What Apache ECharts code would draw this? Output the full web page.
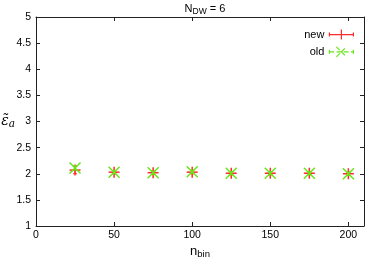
<!DOCTYPE html>
<html><head><meta charset="utf-8">
<script src="https://cdn.jsdelivr.net/npm/echarts@6/dist/echarts.min.js"></script>
<style>html,body{margin:0;padding:0;background:#fff}#c{width:366px;height:260px}</style>
</head><body><div id="c"></div>
<script>
var nbin = [25, 50, 75, 100, 125, 150, 175, 200];
var newVals = [2.07, 2.03, 2.02, 2.03, 2.01, 2.01, 2.01, 2.00];
var newErr  = [0.07, 0.03, 0.03, 0.03, 0.03, 0.03, 0.03, 0.03];
var oldVals = [2.11, 2.03, 2.02, 2.04, 2.01, 2.01, 2.01, 2.00];
var oldErr  = [0.04, 0.03, 0.03, 0.03, 0.03, 0.03, 0.03, 0.03];
var xTicks = [0, 50, 100, 150, 200];
var yTicks = [1, 1.5, 2, 2.5, 3, 3.5, 4, 4.5, 5];

var RED = '#ff2a2a', GREEN = '#66e619';
var FONT = '"Liberation Sans", Arial, sans-serif';

function mkData(v, e) { return nbin.map(function (x, i) { return [x, v[i], e[i]]; }); }

function render(kind, color) {
  return function (params, api) {
    var x = api.value(0), y = api.value(1), e = api.value(2);
    var c = api.coord([x, y]);
    var t = api.coord([x, y + e]);
    var b = api.coord([x, y - e]);
    var st = { stroke: color, lineWidth: 1 };
    var ch = [];
    ch.push({ type: 'line', shape: { x1: c[0], y1: t[1], x2: c[0], y2: b[1] }, style: st });
    ch.push({ type: 'line', shape: { x1: c[0] - 2, y1: t[1], x2: c[0] + 2, y2: t[1] }, style: st });
    ch.push({ type: 'line', shape: { x1: c[0] - 2, y1: b[1], x2: c[0] + 2, y2: b[1] }, style: st });
    var s = 5.5;
    if (kind === 'plus') {
      ch.push({ type: 'line', shape: { x1: c[0] - s, y1: c[1], x2: c[0] + s, y2: c[1] }, style: { stroke: color, lineWidth: 1.5 } });
      ch.push({ type: 'line', shape: { x1: c[0], y1: c[1] - s, x2: c[0], y2: c[1] + s }, style: { stroke: color, lineWidth: 1.5 } });
    } else {
      ch.push({ type: 'line', shape: { x1: c[0] - s, y1: c[1] - s, x2: c[0] + s, y2: c[1] + s }, style: { stroke: color, lineWidth: 1.5 } });
      ch.push({ type: 'line', shape: { x1: c[0] - s, y1: c[1] + s, x2: c[0] + s, y2: c[1] - s }, style: { stroke: color, lineWidth: 1.5 } });
    }
    return { type: 'group', children: ch };
  };
}

var axisCommon = {
  axisLine: { show: true, onZero: false, lineStyle: { color: '#222', width: 1 } },
  axisTick: { show: true, inside: true, length: 4, lineStyle: { color: '#222' } },
  splitLine: { show: false }
};

var chart = echarts.init(document.getElementById('c'), null, { renderer: 'canvas' });
chart.setOption({
  animation: false,
  backgroundColor: '#fff',
  textStyle: { fontFamily: FONT },
  title: {
    text: 'N{sub|DW} = 6',
    left: 200, top: -3, textAlign: 'center',
    textStyle: {
      fontFamily: FONT, fontSize: 11, fontWeight: 'normal', color: '#000',
      rich: { sub: { fontFamily: FONT, fontSize: 8.5, padding: [5, 0, 0, 0], color: '#000' } }
    }
  },
  legend: {
    orient: 'vertical', right: 7, top: 24, align: 'right',
    itemWidth: 24, itemHeight: 10, itemGap: 6,
    textStyle: { fontFamily: FONT, fontSize: 11, color: '#000', padding: [0, 0, 0, 0] },
    data: [
      { name: 'new', icon: 'path://M0,5L24,5M0,3L0,7M24,3L24,7M12,0L12,10',
        itemStyle: { color: 'transparent', borderColor: RED, borderWidth: 1.2 } },
      { name: 'old', icon: 'path://M0,5L24,5M0,3L0,7M24,3L24,7M7,0L17,10M7,10L17,0',
        itemStyle: { color: 'transparent', borderColor: GREEN, borderWidth: 1.2, borderType: 'dashed' } }
    ]
  },
  grid: { left: 36, right: 2, top: 17, bottom: 34, containLabel: false, outerBoundsMode: 'none' },
  xAxis: [
    Object.assign({
      type: 'value', min: 0, max: 210, interval: 50, position: 'bottom',
      name: 'n{sub|bin}', nameLocation: 'middle', nameGap: 17, nameMoveOverlap: false,
      nameTextStyle: { fontFamily: FONT, fontSize: 13, color: '#000',
        rich: { sub: { fontFamily: FONT, fontSize: 9.5, padding: [6, 0, 0, 0], color: '#000' } } },
      axisLabel: { fontFamily: FONT, fontSize: 10.5, color: '#000', margin: 4,
        formatter: function (v) { return xTicks.indexOf(v) >= 0 ? String(v) : ''; } }
    }, axisCommon),
    Object.assign({
      type: 'value', min: 0, max: 210, interval: 50, position: 'top',
      axisLabel: { show: false }
    }, axisCommon)
  ],
  yAxis: [
    Object.assign({
      type: 'value', min: 1, max: 5, interval: 0.5, position: 'left',
      name: '{e|ε̃}{a|a}', nameLocation: 'middle', nameGap: 21, nameRotate: 0, nameMoveOverlap: false,
      nameTextStyle: { rich: {
        e: { fontFamily: '"DejaVu Serif", serif', fontStyle: 'italic', fontSize: 14, color: '#000' },
        a: { fontFamily: '"DejaVu Serif", serif', fontStyle: 'italic', fontSize: 10.5, padding: [6, 0, 0, 0], color: '#000' } } },
      axisLabel: { fontFamily: FONT, fontSize: 10.5, color: '#000', margin: 5,
        formatter: function (v) { return yTicks.indexOf(v) >= 0 ? String(v) : ''; } }
    }, axisCommon),
    Object.assign({
      type: 'value', min: 1, max: 5, interval: 0.5, position: 'right',
      axisLabel: { show: false }
    }, axisCommon)
  ],
  series: [
    { name: 'new', type: 'custom', xAxisIndex: 0, yAxisIndex: 0,
      renderItem: render('plus', RED), data: mkData(newVals, newErr), z: 2 },
    { name: 'old', type: 'custom', xAxisIndex: 0, yAxisIndex: 0,
      renderItem: render('x', GREEN), data: mkData(oldVals, oldErr), z: 3 }
  ]
});
</script></body></html>
